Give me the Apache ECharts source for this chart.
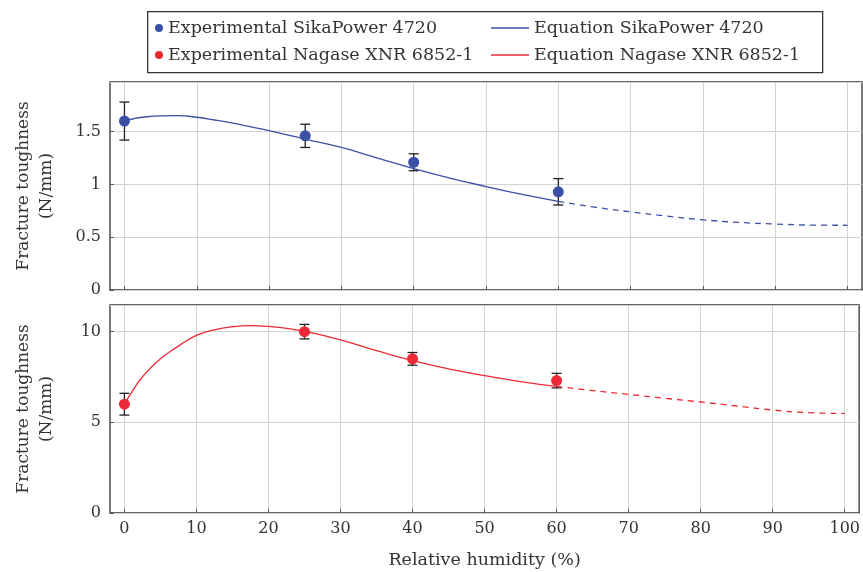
<!DOCTYPE html>
<html>
<head>
<meta charset="utf-8">
<script src="https://cdn.jsdelivr.net/npm/echarts@6/dist/echarts.min.js"></script>
<style>
  html, body { margin: 0; padding: 0; background: #fff; }
  #chart { width: 863px; height: 572px; }
</style>
</head>
<body>
<div id="chart"></div>
<script>
// measured points (relative humidity %)
var humidity = [0, 25, 40, 60];
var sikaMean = [1.60, 1.46, 1.21, 0.93];
var sikaErr = [0.18, 0.11, 0.08, 0.125];
var nagaseMean = [6.0, 10.0, 8.5, 7.3];
var nagaseErr = [0.6, 0.4, 0.35, 0.4];

// fitted equations
var curveX = [0, 1.25, 2.5, 5, 7.5, 10, 12.5, 15, 17.5, 20, 22.5, 25, 30, 35, 40, 45, 50, 55, 60, 65, 70, 75, 80, 85, 90, 95, 100];
var sikaCurve = [1.60, 1.622, 1.636, 1.649, 1.651, 1.636, 1.61, 1.58, 1.545, 1.51, 1.47, 1.43, 1.35, 1.25, 1.15, 1.06, 0.98, 0.905, 0.84, 0.785, 0.74, 0.70, 0.665, 0.64, 0.625, 0.615, 0.613];
var nagaseCurve = [6.0, 6.8, 7.5, 8.5, 9.2, 9.8, 10.1, 10.27, 10.33, 10.29, 10.18, 10.02, 9.55, 8.95, 8.4, 7.95, 7.58, 7.25, 6.98, 6.75, 6.54, 6.33, 6.12, 5.9, 5.68, 5.53, 5.49];
var fitLimit = 60; // solid up to here, dashed after

var xTicks = [0, 10, 20, 30, 40, 50, 60, 70, 80, 90, 100];

var blue = '#3a50a6';
var red = '#ec2a36';
var serif = 'DejaVu Serif';

function pairs(xs, ys, from, to) {
	var out = [];
	for (var i = 0; i < xs.length; i++) {
		if (xs[i] >= from && xs[i] <= to) out.push([xs[i], ys[i]]);
	}
	return out;
}
function bars(xs, ys, es) {
	return xs.map(function (x, i) { return [x, ys[i], es[i]]; });
}

function errorBarItem(params, api) {
	var x = api.value(0), y = api.value(1), e = api.value(2);
	var top = api.coord([x, y + e]);
	var bot = api.coord([x, y - e]);
	var hw = 5;
	var st = { stroke: '#222', lineWidth: 1.3 };
	return {
		type: 'group',
		children: [
			{ type: 'line', shape: { x1: top[0], y1: top[1], x2: bot[0], y2: bot[1] }, style: st },
			{ type: 'line', shape: { x1: top[0] - hw, y1: top[1], x2: top[0] + hw, y2: top[1] }, style: st },
			{ type: 'line', shape: { x1: bot[0] - hw, y1: bot[1], x2: bot[0] + hw, y2: bot[1] }, style: st }
		]
	};
}

function xAxisOf(gridIndex, withLabels) {
	return {
		type: 'value', gridIndex: gridIndex, min: -2, max: 102,
		axisLine: { show: false, onZero: false },
		axisTick: { show: true, inside: true, length: 4, customValues: xTicks, lineStyle: { color: '#555' } },
		axisLabel: { show: withLabels, customValues: xTicks, margin: 8, color: '#333', fontFamily: serif, fontSize: 16 },
		splitLine: { show: true, lineStyle: { color: '#d2d2d2', width: 1 } },
		name: withLabels ? 'Relative humidity (%)' : '',
		nameLocation: 'middle', nameGap: 38,
		nameTextStyle: { color: '#333', fontFamily: serif, fontSize: 17.5 }
	};
}
function yAxisOf(gridIndex, max, interval) {
	return {
		type: 'value', gridIndex: gridIndex, min: 0, max: max, interval: interval,
		axisLine: { show: false, onZero: false },
		axisTick: { show: true, inside: true, length: 4, lineStyle: { color: '#555' } },
		axisLabel: { showMaxLabel: false, margin: 9, color: '#333', fontFamily: serif, fontSize: 16 },
		splitLine: { show: true, lineStyle: { color: '#d2d2d2', width: 1 } },
		name: 'Fracture toughness\n(N/mm)',
		nameLocation: 'middle', nameRotate: 90, nameGap: 52,
		nameTextStyle: { color: '#333', fontFamily: serif, fontSize: 17, lineHeight: 23 }
	};
}

var chart = echarts.init(document.getElementById('chart'));
chart.setOption({
	animation: false,
	backgroundColor: '#fff',
	graphic: [{
		type: 'rect', left: 147, top: 11, z: -1,
		shape: { width: 675, height: 61 },
		style: { fill: '#fff', stroke: '#333', lineWidth: 1.3 }
	}],
	legend: [{
		orient: 'vertical', left: 155, top: 18, padding: 0, itemGap: 7,
		itemWidth: 8, itemHeight: 8, icon: 'circle',
		data: ['Experimental SikaPower 4720', 'Experimental Nagase XNR 6852-1'],
		textStyle: { color: '#333', fontFamily: serif, fontSize: 17.5, lineHeight: 20 }
	}, {
		orient: 'vertical', left: 491, top: 18, padding: 0, itemGap: 7,
		itemWidth: 38, itemHeight: 1.4, icon: 'rect',
		data: ['Equation SikaPower 4720', 'Equation Nagase XNR 6852-1'],
		textStyle: { color: '#333', fontFamily: serif, fontSize: 17.5, lineHeight: 20 }
	}],
	grid: [
		{ left: 110, top: 82, width: 752, height: 208, show: true, borderColor: '#333', borderWidth: 1.3 },
		{ left: 110, top: 305, width: 752, height: 208, show: true, borderColor: '#333', borderWidth: 1.3 }
	],
	xAxis: [xAxisOf(0, false), xAxisOf(1, true)],
	yAxis: [yAxisOf(0, 1.97, 0.5), yAxisOf(1, 11.47, 5)],
	series: [
		{
			name: 'Equation SikaPower 4720', type: 'line', xAxisIndex: 0, yAxisIndex: 0,
			smooth: true, symbol: 'none', color: blue,
			lineStyle: { width: 1.3, color: blue },
			data: pairs(curveX, sikaCurve, 0, fitLimit)
		},
		{
			name: 'sika-extrapolated', type: 'line', xAxisIndex: 0, yAxisIndex: 0,
			smooth: true, symbol: 'none', color: blue,
			lineStyle: { width: 1.3, color: blue, type: [6, 5] },
			data: pairs(curveX, sikaCurve, fitLimit, 100)
		},
		{
			name: 'sika-error', type: 'custom', xAxisIndex: 0, yAxisIndex: 0,
			renderItem: errorBarItem, encode: { x: 0, y: 1 }, z: 3,
			data: bars(humidity, sikaMean, sikaErr)
		},
		{
			name: 'Experimental SikaPower 4720', type: 'scatter', xAxisIndex: 0, yAxisIndex: 0,
			symbolSize: 11, color: blue, z: 4, itemStyle: { opacity: 1 },
			data: pairs(humidity, sikaMean, 0, 100)
		},
		{
			name: 'Equation Nagase XNR 6852-1', type: 'line', xAxisIndex: 1, yAxisIndex: 1,
			smooth: true, symbol: 'none', color: red,
			lineStyle: { width: 1.3, color: red },
			data: pairs(curveX, nagaseCurve, 0, fitLimit)
		},
		{
			name: 'nagase-extrapolated', type: 'line', xAxisIndex: 1, yAxisIndex: 1,
			smooth: true, symbol: 'none', color: red,
			lineStyle: { width: 1.3, color: red, type: [6, 5] },
			data: pairs(curveX, nagaseCurve, fitLimit, 100)
		},
		{
			name: 'nagase-error', type: 'custom', xAxisIndex: 1, yAxisIndex: 1,
			renderItem: errorBarItem, encode: { x: 0, y: 1 }, z: 3,
			data: bars(humidity, nagaseMean, nagaseErr)
		},
		{
			name: 'Experimental Nagase XNR 6852-1', type: 'scatter', xAxisIndex: 1, yAxisIndex: 1,
			symbolSize: 11, color: red, z: 4, itemStyle: { opacity: 1 },
			data: pairs(humidity, nagaseMean, 0, 100)
		}
	]
});
</script>
</body>
</html>
